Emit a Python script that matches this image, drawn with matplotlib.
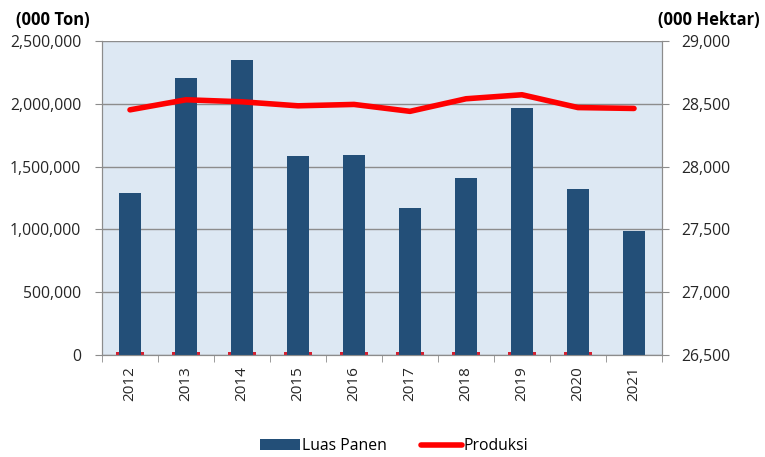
import matplotlib.pyplot as plt
import numpy as np
from matplotlib.ticker import FuncFormatter

plt.rcParams["font.family"] = ["Open Sans", "DejaVu Sans"]

years = ["2012", "2013", "2014", "2015", "2016", "2017", "2018", "2019", "2020", "2021"]
luas_panen = [1291700, 2205000, 2349000, 1582500, 1590500, 1171500, 1412000, 1967000, 1318000, 984000]
produksi = [28452, 28532, 28516, 28484, 28495, 28440, 28540, 28572, 28470, 28463]
# small red stubs visible at the base of the bars in the source chart
base_stub = [20000, 20000, 20000, 20000, 20000, 20000, 20000, 20000, 20000, 0]

BAR = "#234f78"
RED = "#ff0000"
GRID = "#8c8c8c"

fig = plt.figure(figsize=(7.65, 4.57), dpi=100)
ax = fig.add_axes([102 / 765, 1 - 355 / 457, 560 / 765, 314 / 457])
ax2 = ax.twinx()

x = np.arange(len(years))
ax.set_facecolor("#dde8f3")
ax.bar(x, base_stub, width=0.5, color="#d42030", zorder=2)
ax.bar(x, luas_panen, width=0.39, color=BAR, zorder=3, label="Luas Panen")
ax.set_ylim(0, 2500000)
ax.set_yticks(np.arange(0, 2500001, 500000))
ax.yaxis.set_major_formatter(FuncFormatter(lambda v, p: f"{int(v):,}"))
ax.set_xlim(-0.5, len(years) - 0.5)
ax.set_xticks(x)
ax.set_xticklabels(years, rotation=90)
ax.set_xticks(np.arange(-0.5, len(years)), minor=True)
ax.tick_params(axis="x", which="major", length=0, pad=8, labelsize=11, colors="#262626")
ax.tick_params(axis="x", which="minor", length=5, color=GRID)
ax.tick_params(axis="y", length=5, color=GRID, labelsize=11.3, labelcolor="#262626", pad=10)
ax.grid(axis="y", color=GRID, linewidth=1, zorder=1)
ax.set_axisbelow(True)

ax2.plot(x, produksi, color=RED, linewidth=4, solid_capstyle="round", zorder=5, label="Produksi")
ax2.set_ylim(26500, 29000)
ax2.set_yticks(np.arange(26500, 29001, 500))
ax2.yaxis.set_major_formatter(FuncFormatter(lambda v, p: f"{int(v):,}"))
ax2.tick_params(axis="y", length=5, color=GRID, labelsize=11.3, labelcolor="#262626", pad=9)

for a in (ax, ax2):
    for s in a.spines.values():
        s.set_color(GRID)
    a.spines["top"].set_visible(False)

fig.text(16 / 765, 1 - 20 / 457, "(000 Ton)", fontsize=12, fontweight="bold", va="center", ha="left")
fig.text(760 / 765, 1 - 20 / 457, "(000 Hektar)", fontsize=12, fontweight="bold", va="center", ha="right")

h1, l1 = ax.get_legend_handles_labels()
h2, l2 = ax2.get_legend_handles_labels()
fig.legend(h1 + h2, l1 + l2, loc="center", bbox_to_anchor=(394 / 765, 1 - 446 / 457), ncol=2,
           frameon=False, fontsize=11.3, handlelength=2.6, handletextpad=0.1, columnspacing=2.2)

fig.savefig("out.png", dpi=100)
